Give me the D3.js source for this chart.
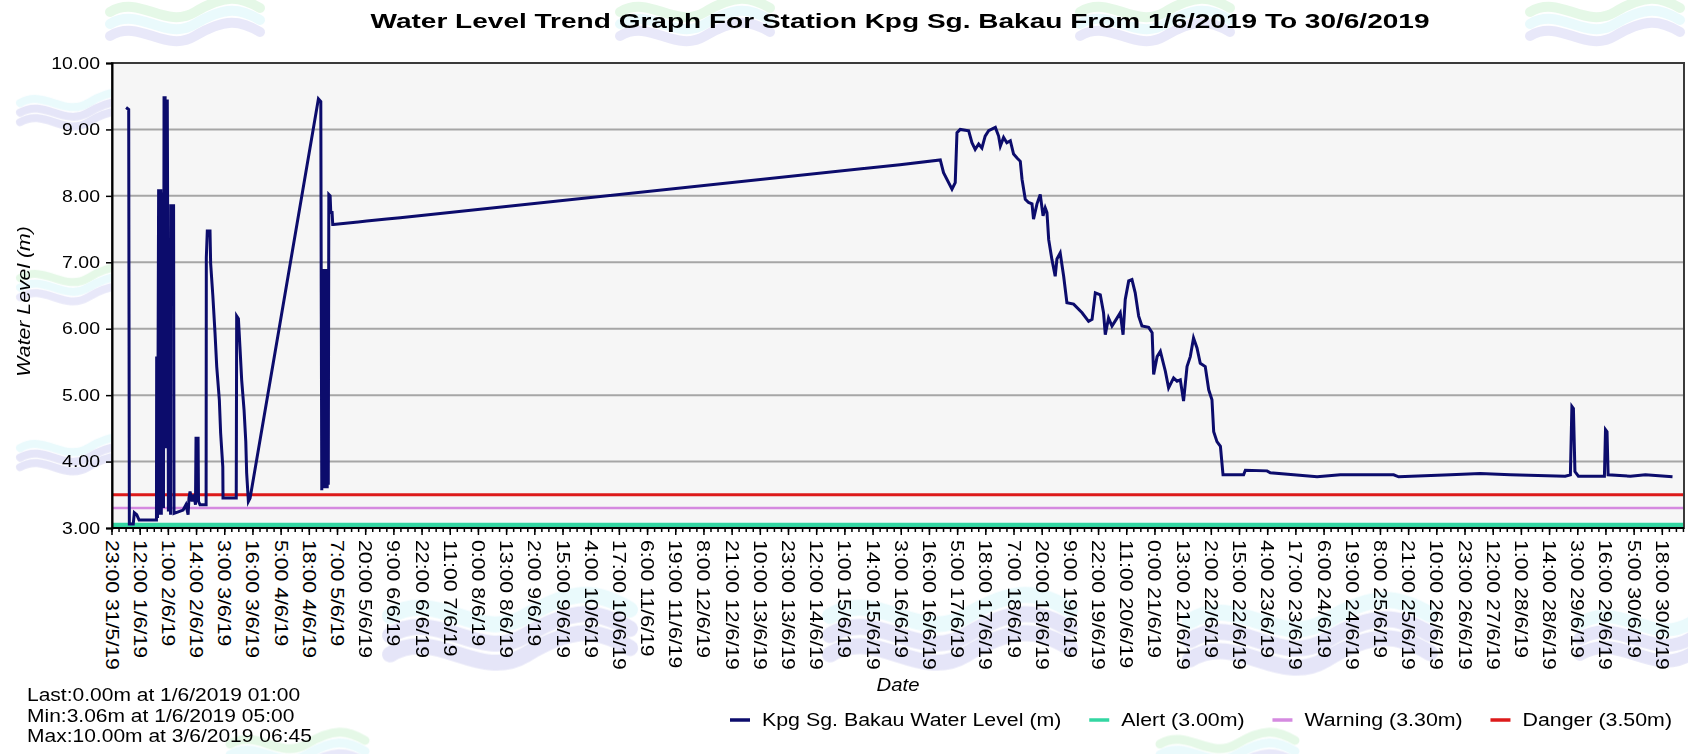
<!DOCTYPE html>
<html lang="en">
<head>
<meta charset="UTF-8">
<title>Water Level Trend Graph - Kpg Sg. Bakau</title>
<style>
  body { margin: 0; background: #fff; }
  svg { display: block; }
  text { font-family: "Liberation Sans", Arial, sans-serif; fill: #000; }
  .grid line { stroke: #a6a6a6; stroke-width: 2px; }
  .level { fill: none; stroke: #0c0c6c; stroke-width: 3px; stroke-linejoin: miter; }
</style>
<script src="https://d3js.org/d3.v7.min.js"></script>
</head>
<body>
<svg width="1688" height="754"></svg>
<script>
// hours after 1/6/2019 00:00
const hrs = [
  5.5, 6.7, 7.0, 8.8, 9.3, 10.4, 11.5, 19.5, 19.6, 20.0,
  20.5, 20.75, 21.0, 21.25, 21.5, 21.75, 22.0, 22.25, 22.5, 22.75,
  23.0, 23.25, 23.5, 23.75, 24.0, 24.25, 24.5, 24.75, 25.0, 25.25,
  25.75, 26.0, 26.1, 27.4, 27.6, 31.8, 33.1, 34.1, 34.5, 35.0,
  35.9, 36.8, 37.5, 37.75, 38.7, 38.9, 39.6, 42.4, 42.5, 42.95,
  44.2, 44.5, 45.5, 46.5, 47.3, 48.5, 49.1, 50.1, 50.2, 56.3,
  56.5, 57.3, 58.0, 58.8, 59.9, 60.7, 61.1, 61.9, 62.7, 94.2,
  95.3, 95.5, 95.75, 96.0, 96.25, 96.5, 96.75, 97.0, 97.25, 97.5,
  97.75, 98.0, 98.25, 98.5, 98.75, 99.0, 99.6, 99.9, 100.5, 100.8,
  101.1, 110.2, 116.5, 125.7, 131.9, 362.4,
  381.0, 382.5, 386.4, 387.9, 388.7, 390.2, 394.1, 395.6, 397.1, 398.7,
  400.2, 401.7, 403.3, 406.4, 407.9, 408.7, 410.2, 411.7, 413.3, 414.8,
  416.4, 417.9, 418.7, 420.2, 421.7, 423.3, 424.0, 425.6, 427.1, 428.4,
  429.4, 430.2, 431.0, 432.5, 434.0, 434.8, 436.3, 437.9, 439.4, 442.5,
  446.4, 449.4, 451.0, 452.5, 454.8, 456.3, 457.1, 458.6, 460.2, 462.5,
  464.0, 465.3, 466.3, 467.9, 469.4, 470.9, 472.5, 474.0, 477.1, 478.7,
  479.4, 481.0, 482.5, 484.8, 486.3, 488.6, 490.2, 491.7, 493.2, 494.8,
  496.3, 497.8, 499.4, 500.9, 503.2, 504.8, 506.3, 507.1, 508.6, 510.2,
  511.4, 520.9, 521.7, 531.7, 533.2, 544.0, 554.8, 565.5, 590.1, 592.4,
  616.3, 630.0, 643.9, 669.2, 671.6, 672.3, 673.0, 673.7, 675.3, 687.3,
  687.8, 688.5, 689.0, 699.3, 706.2, 718.7
];
// water level (m)
const levels = [
  9.33, 9.30, 3.06, 3.06, 3.23, 3.20, 3.12, 3.12, 5.58, 3.15,
  8.10, 3.20, 8.10, 3.20, 8.10, 3.20, 8.05, 3.30, 8.00, 3.30,
  9.50, 4.20, 9.50, 4.20, 9.45, 4.20, 9.45, 6.85, 3.25, 6.85,
  6.85, 3.20, 7.85, 7.85, 3.22, 3.27, 3.35, 3.20, 3.45, 3.55,
  3.40, 3.50, 3.35, 4.35, 4.35, 3.40, 3.35, 3.35, 7.07, 7.47,
  7.47, 6.98, 6.50, 5.94, 5.43, 4.93, 4.43, 3.92, 3.45, 3.45,
  6.19, 6.15, 5.73, 5.23, 4.78, 4.30, 3.83, 3.40, 3.45, 9.46,
  9.42, 6.54, 3.57, 6.90, 3.60, 6.90, 3.60, 6.90, 3.60, 6.90,
  3.60, 6.90, 3.60, 6.90, 3.65, 8.02, 8.00, 7.75, 7.75, 7.57,
  7.57, 7.60, 7.62, 7.65, 7.67, 8.47,
  8.54, 8.35, 8.10, 8.20, 8.95, 9.00, 8.98, 8.80, 8.70, 8.78,
  8.72, 8.90, 8.98, 9.03, 8.90, 8.75, 8.88, 8.80, 8.83, 8.63,
  8.57, 8.52, 8.25, 7.95, 7.90, 7.88, 7.65, 7.88, 8.02, 7.70,
  7.82, 7.75, 7.34, 7.04, 6.79, 7.05, 7.14, 6.79, 6.39, 6.37,
  6.24, 6.11, 6.14, 6.54, 6.51, 6.24, 5.91, 6.16, 6.04, 6.16,
  6.24, 5.91, 6.44, 6.72, 6.74, 6.54, 6.19, 6.04, 6.02, 5.94,
  5.31, 5.58, 5.66, 5.36, 5.11, 5.26, 5.21, 5.23, 4.91, 5.43,
  5.58, 5.86, 5.71, 5.48, 5.43, 5.08, 4.93, 4.45, 4.30, 4.23,
  3.80, 3.80, 3.87, 3.86, 3.83, 3.80, 3.77, 3.80, 3.80, 3.77,
  3.80, 3.82, 3.80, 3.78, 3.80, 4.83, 4.80, 3.85, 3.78, 3.78,
  4.48, 4.45, 3.80, 3.78, 3.80, 3.77
];

const thresholdNames = ["Alert (3.00m)", "Warning (3.30m)", "Danger (3.50m)"];
const thresholdValues = [3.0, 3.3, 3.5];
const yTicks = [3, 4, 5, 6, 7, 8, 9, 10];
const statLines = [
  "Last:0.00m at 1/6/2019 01:00",
  "Min:3.06m at 1/6/2019 05:00",
  "Max:10.00m at 3/6/2019 06:45"
];
const seriesName = "Kpg Sg. Bakau Water Level (m)";
const titleText = "Water Level Trend Graph For Station Kpg Sg. Bakau From 1/6/2019 To 30/6/2019";

const lineColor = "#0c0c6c";
const thresholdColors = ["#33d6a2", "#d58ae0", "#dd1a1a"];
const thresholdWidths = [4.5, 2.5, 3];

const svg = d3.select("svg");
const plot = { left: 112, right: 1684, top: 63, bottom: 528 };

// text in the picture is drawn wider than plain Arial
function widen(sel, k) {
  sel.each(function () {
    const w = this.getComputedTextLength();
    d3.select(this).attr("textLength", w * k).attr("lengthAdjust", "spacingAndGlyphs");
  });
}

// faint wave watermark behind the chart
const wm = svg.append("g").attr("opacity", 0.3);
const waveSpots = [
  [110, 2, 1.0, 0], [620, 2, 1.0, 0], [1080, 2, 1.0, 0], [1530, 2, 1.0, 0],
  [20, 95, 0.8, 1], [20, 270, 0.8, 0], [20, 440, 0.8, 1],
  [390, 600, 1.6, 1], [830, 600, 1.6, 1], [1190, 605, 1.6, 1], [1580, 610, 1.3, 1],
  [230, 735, 0.9, 0], [1160, 735, 0.9, 0]
];
waveSpots.forEach(([wx, wy, s, purple]) => {
  const g = wm.append("g").attr("transform", `translate(${wx},${wy}) scale(${s})`);
  const bands = purple
    ? [["#b8eef6", 0], ["#a9a9e6", 12], ["#a9a9e6", 24]]
    : [["#a9e8b0", 0], ["#b8eef6", 12], ["#b3b3ea", 24]];
  bands.forEach(([c, dy]) => {
    g.append("path")
      .attr("d", `M0,${dy + 10} C30,${dy - 8} 55,${dy + 28} 85,${dy + 10} S130,${dy - 6} 150,${dy + 6}`)
      .attr("fill", "none").attr("stroke", c).attr("stroke-width", 10).attr("stroke-linecap", "round");
  });
});

const t0 = new Date(2019, 4, 31, 23, 0);
const t1 = new Date(2019, 6, 1, 4, 0);
const june1 = new Date(2019, 5, 1, 0, 0);
const data = hrs.map((h, i) => ({ t: new Date(+june1 + h * 3600e3), v: levels[i] }));

const x = d3.scaleTime().domain([t0, t1]).range([plot.left, plot.right]);
const y = d3.scaleLinear().domain([3, 10]).range([plot.bottom, plot.top]);

svg.append("rect")
  .attr("x", plot.left).attr("y", plot.top)
  .attr("width", plot.right - plot.left).attr("height", plot.bottom - plot.top)
  .attr("fill", "#f6f6f6");

// horizontal grid
svg.append("g").attr("class", "grid")
  .selectAll("line").data(yTicks.filter(d => d > 3 && d < 10)).join("line")
  .attr("x1", plot.left).attr("x2", plot.right)
  .attr("y1", d => y(d)).attr("y2", d => y(d));

svg.append("clipPath").attr("id", "clip").append("rect")
  .attr("x", plot.left).attr("y", plot.top)
  .attr("width", plot.right - plot.left).attr("height", plot.bottom - plot.top);

// threshold lines (alert sits on the axis, drawn just above it)
svg.append("g").attr("clip-path", "url(#clip)")
  .selectAll("line").data(thresholdValues).join("line")
  .attr("x1", plot.left).attr("x2", plot.right)
  .attr("y1", (d, i) => y(d) - (i === 0 ? 3 : 0)).attr("y2", (d, i) => y(d) - (i === 0 ? 3 : 0))
  .attr("stroke", (d, i) => thresholdColors[i])
  .attr("stroke-width", (d, i) => thresholdWidths[i]);

// water level series
const line = d3.line().x(d => x(d.t)).y(d => y(d.v));
svg.append("path").datum(data).attr("class", "level")
  .attr("clip-path", "url(#clip)").attr("d", line);

// frame border on top
svg.append("rect")
  .attr("x", plot.left).attr("y", plot.top)
  .attr("width", plot.right - plot.left).attr("height", plot.bottom - plot.top)
  .attr("fill", "none").attr("stroke", "#3a3a3a").attr("stroke-width", 2);

// y axis
const yAxis = svg.append("g").attr("transform", `translate(${plot.left},0)`)
  .call(d3.axisLeft(y).tickValues(yTicks).tickFormat(d3.format(".2f")).tickSize(6).tickPadding(6));
yAxis.select(".domain").attr("stroke", "#000").attr("stroke-width", 2);
yAxis.selectAll(".tick line").attr("stroke", "#000").attr("stroke-width", 1.5);
yAxis.selectAll(".tick text").attr("font-size", 16.5).attr("font-family", '"Liberation Sans", Arial, sans-serif');
widen(yAxis.selectAll(".tick text"), 1.18);

// x axis: major ticks every 13 hours, minor in between
const majors = d3.range(0, 56).map(i => d3.timeHour.offset(t0, 13 * i));
const minors = d3.range(0, 56 * 4).map(i => d3.timeMinute.offset(t0, 195 * i)).filter(d => d <= t1);
const fmt = d3.timeFormat("%-H:%M %-d/%-m/%y");

const xAxis = svg.append("g").attr("transform", `translate(0,${plot.bottom})`);
xAxis.append("line").attr("x1", plot.left).attr("x2", plot.right)
  .attr("stroke", "#000").attr("stroke-width", 2);
xAxis.selectAll(".minor").data(minors).join("line")
  .attr("x1", d => x(d)).attr("x2", d => x(d)).attr("y1", 0).attr("y2", 4)
  .attr("stroke", "#000").attr("stroke-width", 1.5);
xAxis.selectAll(".major").data(majors).join("line")
  .attr("x1", d => x(d)).attr("x2", d => x(d)).attr("y1", 0).attr("y2", 7)
  .attr("stroke", "#000").attr("stroke-width", 1.5);
const xl = xAxis.selectAll(".lab").data(majors).join("text")
  .attr("transform", d => `translate(${x(d)},12) rotate(90)`)
  .attr("dy", "0.36em").attr("font-size", 18)
  .text(d => fmt(d));
widen(xl, 1.18);

// axis titles
const yt = svg.append("text")
  .attr("transform", `translate(30,${(plot.top + plot.bottom) / 2 + 6}) rotate(-90)`)
  .attr("text-anchor", "middle").attr("font-size", 18).attr("font-style", "italic")
  .text("Water Level (m)");
widen(yt, 1.18);
const xt = svg.append("text")
  .attr("x", (plot.left + plot.right) / 2).attr("y", 691)
  .attr("text-anchor", "middle").attr("font-size", 17.5).attr("font-style", "italic")
  .text("Date");
widen(xt, 1.16);

// title
svg.append("text")
  .attr("x", 900).attr("y", 28)
  .attr("text-anchor", "middle").attr("font-size", 20).attr("font-weight", "bold")
  .attr("textLength", 1059).attr("lengthAdjust", "spacingAndGlyphs")
  .text(titleText);

// stats block
const st = svg.append("g").selectAll("text").data(statLines).join("text")
  .attr("x", 27).attr("y", (d, i) => 701 + i * 20.5)
  .attr("font-size", 17.5).text(d => d);
widen(st, 1.2);

// legend spread between x=730 and x=1672 under the plot
const legendItems = [seriesName].concat(thresholdNames);
const legendColors = [lineColor].concat(thresholdColors);
const lg = svg.append("g");
const items = legendItems.map((name, i) => {
  const g = lg.append("g");
  g.append("line").attr("x1", 0).attr("x2", 20).attr("y1", 0).attr("y2", 0)
    .attr("stroke", legendColors[i]).attr("stroke-width", 3.5);
  const t = g.append("text").attr("x", 32).attr("y", 6).attr("font-size", 17.5).text(name);
  const w = t.node().getComputedTextLength() * 1.22;
  t.attr("textLength", w).attr("lengthAdjust", "spacingAndGlyphs");
  return { g, w: 32 + w };
});
const gap = (1672 - 730 - d3.sum(items, d => d.w)) / (items.length - 1);
let lx = 730;
items.forEach(it => {
  it.g.attr("transform", `translate(${lx},720)`);
  lx += it.w + gap;
});
</script>
</body>
</html>
